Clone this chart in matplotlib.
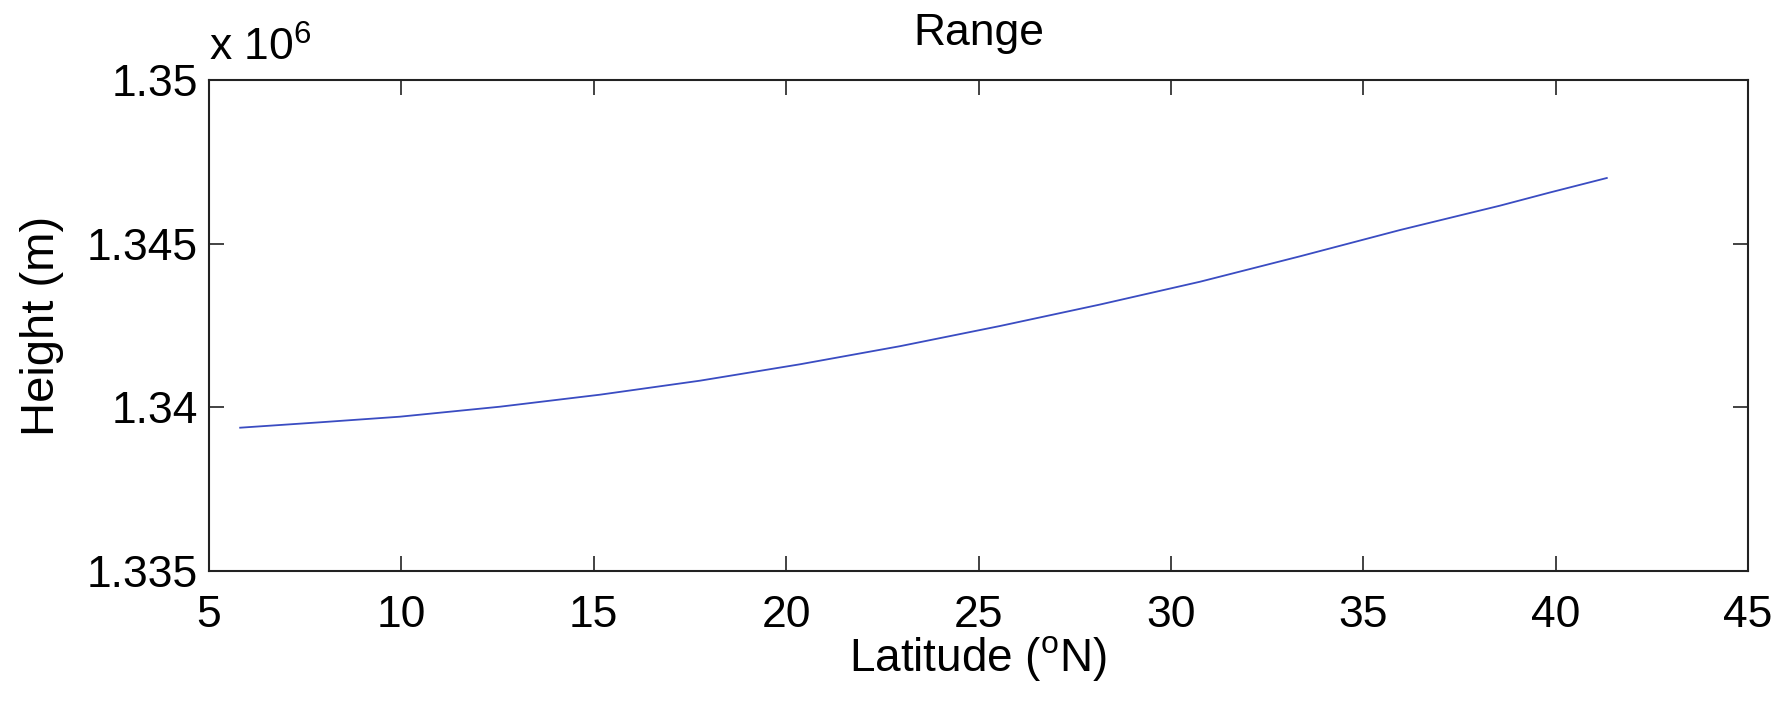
import matplotlib
matplotlib.use("Agg")
import matplotlib.pyplot as plt
from matplotlib.ticker import FixedLocator, FuncFormatter

plt.rcParams["font.family"] = ["Liberation Sans", "DejaVu Sans"]
plt.rcParams["mathtext.fontset"] = "custom"
plt.rcParams["mathtext.rm"] = "Liberation Sans"
plt.rcParams["mathtext.it"] = "Liberation Sans"

# Orbit height along the ground track
latitude = [5.81, 7.89, 9.96, 12.56, 15.16, 17.76, 20.36, 22.96, 25.56,
            28.16, 30.76, 33.36, 35.96, 38.55, 39.85, 41.33]
height_m = [1339378, 1339543, 1339714, 1340019, 1340386, 1340814, 1341315, 1341868,
            1342485, 1343141, 1343838, 1344615, 1345418, 1346160, 1346563, 1347006]

x_ticks = [5, 10, 15, 20, 25, 30, 35, 40, 45]
y_ticks = [1.335e6, 1.340e6, 1.345e6, 1.350e6]
y_tick_labels = ["1.335", "1.34", "1.345", "1.35"]

fig = plt.figure(figsize=(17.79, 7.03), dpi=100)
ax = fig.add_axes([209 / 1779, 1 - 571 / 703, 1539 / 1779, 491 / 703])

ax.plot(latitude, height_m, color="#3a4cc2", linewidth=1.3)

ax.set_xlim(5, 45)
ax.set_ylim(1.335e6, 1.350e6)
ax.xaxis.set_major_locator(FixedLocator(x_ticks))
ax.yaxis.set_major_locator(FixedLocator(y_ticks))
ax.yaxis.set_major_formatter(FuncFormatter(lambda v, p: y_tick_labels[y_ticks.index(v)] if v in y_ticks else ""))

for s in ax.spines.values():
    s.set_linewidth(1.5)
    s.set_color("#222222")

ax.tick_params(axis="both", direction="in", length=11, width=1.2, color="#222222",
               top=True, right=True, labelsize=32)
ax.tick_params(axis="x", pad=17)
ax.tick_params(axis="y", pad=8)

ax.set_title("Range", fontsize=32, pad=25)
ax.set_xlabel("Latitude ($^{\\rm o}$N)", fontsize=33, labelpad=-1)
ax.set_ylabel("Height (m)", fontsize=34)
ax.yaxis.set_label_coords(-0.094, 0.5)

ax.text(0.0, 1.02, "x 10$^{6}$", transform=ax.transAxes, fontsize=32,
        ha="left", va="bottom")

fig.savefig("out.png", dpi=100)
